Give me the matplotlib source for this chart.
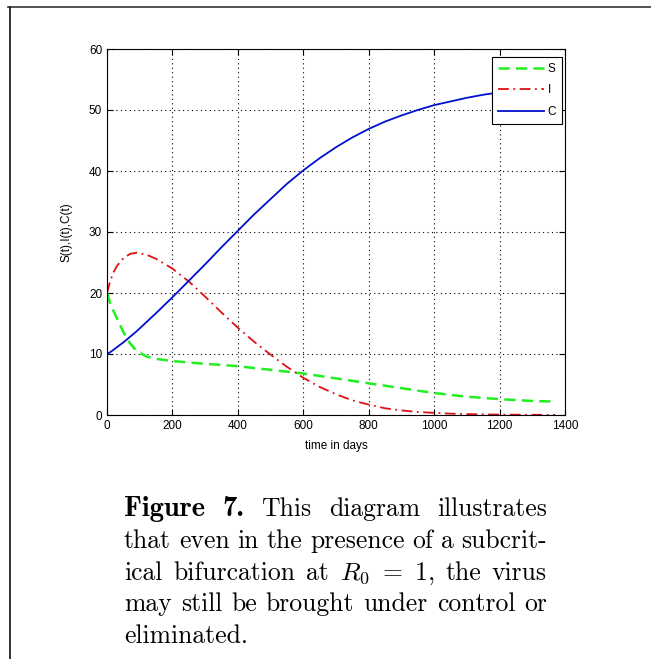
import matplotlib
matplotlib.use('Agg')
import matplotlib.pyplot as plt
from matplotlib.lines import Line2D

# values
t_days = [0, 10, 20, 30, 50, 70, 90, 120, 150, 200, 250, 300, 350, 400, 450,
          500, 550, 600, 650, 700, 750, 800, 850, 900, 950, 1000, 1050, 1100,
          1150, 1200, 1250, 1300, 1370]
S_vals = [20, 18.3, 17, 15.9, 13.6, 11.8, 10.5, 9.6, 9.2, 8.85, 8.6, 8.4, 8.2,
          8.0, 7.7, 7.4, 7.1, 6.8, 6.4, 6.0, 5.6, 5.2, 4.8, 4.4, 4.0, 3.6, 3.3,
          3.0, 2.8, 2.6, 2.45, 2.3, 2.2]
I_vals = [20, 22, 23.4, 24.4, 25.7, 26.4, 26.6, 26.3, 25.6, 24.0, 21.9, 19.4,
          16.8, 14.3, 12.0, 9.9, 7.9, 6.1, 4.6, 3.4, 2.4, 1.7, 1.1, 0.75, 0.5,
          0.35, 0.22, 0.15, 0.1, 0.07, 0.05, 0.03, 0.02]
C_vals = [10, 10.3, 10.7, 11.1, 11.9, 12.8, 13.7, 15.2, 16.7, 19.3, 22, 24.7,
          27.5, 30.2, 32.9, 35.4, 37.9, 40.1, 42.1, 43.9, 45.5, 46.9, 48.1, 49.1,
          50, 50.8, 51.4, 52, 52.5, 52.9, 53.3, 53.6, 54]
x_ticks = [0, 200, 400, 600, 800, 1000, 1200, 1400]
y_ticks = [0, 10, 20, 30, 40, 50, 60]

# caption words; first two tokens are set in bold
caption = [
    ['Figure', '7.', 'This', 'diagram', 'illustrates'],
    ['that', 'even', 'in', 'the', 'presence', 'of', 'a', 'subcrit-'],
    ['ical', 'bifurcation', 'at', r'$R_0\ =\ 1$,', 'the', 'virus'],
    ['may', 'still', 'be', 'brought', 'under', 'control', 'or'],
    ['eliminated.'],
]

plt.rcParams['mathtext.fontset'] = 'cm'

W, H = 651, 659
fig = plt.figure(figsize=(W / 100, H / 100), dpi=100)

# page frame (top and left edges only visible)
fig.add_artist(Line2D([8 / W, 1], [1 - 7 / H, 1 - 7 / H], color='#333333', lw=1.2))
fig.add_artist(Line2D([10 / W, 10 / W], [1 - 7 / H, 0], color='#111111', lw=1.2))

ax = fig.add_axes([107 / W, 1 - 415 / H, 458 / W, 366 / H])
ax.plot(t_days, S_vals, color='#22ee22', ls=(0, (4.5, 2.5)), lw=1.8, label='S')
ax.plot(t_days, I_vals, color='#dd1111', ls=(0, (6, 2.5, 1, 2.5)), lw=1.3, label='I')
ax.plot(t_days, C_vals, color='#0010cc', ls='-', lw=1.3, label='C')

ax.set_xlim(0, 1400)
ax.set_ylim(0, 60)
ax.set_xticks(x_ticks)
ax.set_yticks(y_ticks)
ax.grid(True, color='black', ls=(0, (1, 3)), lw=0.8)
ax.tick_params(direction='in', top=True, right=True, length=4, labelsize=8.5)
for lab in ax.get_xticklabels() + ax.get_yticklabels():
    lab.set_family('Liberation Sans')
for sp in ax.spines.values():
    sp.set_linewidth(0.8)
ax.set_xlabel('time in days', family='Liberation Sans', fontsize=8.5, labelpad=6)
ax.set_ylabel('S(t),I(t),C(t)', family='Liberation Sans', fontsize=8.5, labelpad=12)

leg = ax.legend(loc='upper right', bbox_to_anchor=(0.993, 0.978), borderaxespad=0,
                fancybox=False, edgecolor='black', framealpha=1, handlelength=3.9,
                handletextpad=0.3, labelspacing=0.8, borderpad=0.5,
                prop={'family': 'Liberation Sans', 'size': 8.5})
leg.get_frame().set_linewidth(0.8)

# justified caption, words placed one by one
fig.canvas.draw()
renderer = fig.canvas.get_renderer()
x_left, x_right = 124, 547
line_y = [516, 548, 580, 611, 643]
fs = 18.5
for n, (words, yy) in enumerate(zip(caption, line_y)):
    texts = []
    for k, w in enumerate(words):
        bold = (n == 0 and k < 2)
        txt = fig.text(0, 1 - yy / H, w, fontsize=20.5 if bold else fs,
                       family='cmb10' if bold else 'cmr10',
                       va='baseline', ha='left')
        texts.append(txt)
    widths = [tx.get_window_extent(renderer).width for tx in texts]
    if n < len(caption) - 1:
        gap = (x_right - x_left - sum(widths)) / (len(words) - 1)
    else:
        gap = 5
    x = x_left
    for tx, wd in zip(texts, widths):
        tx.set_x(x / W)
        x += wd + gap

fig.savefig('out.png', dpi=100)
